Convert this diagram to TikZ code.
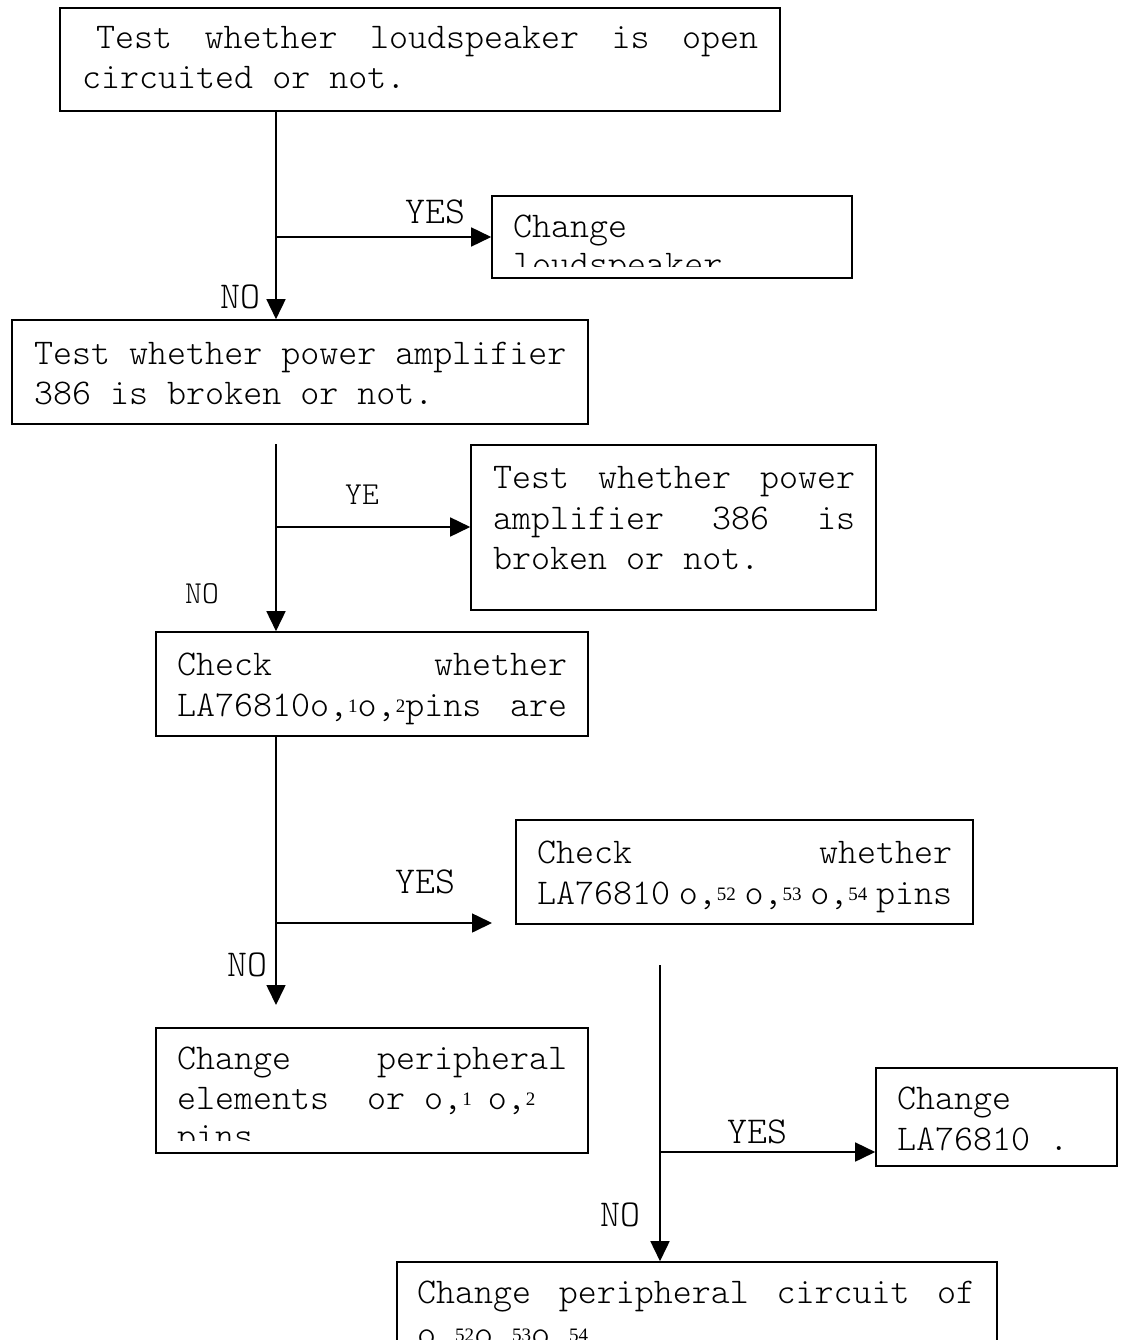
\documentclass[tikz,border=0pt]{standalone}
\usepackage{fontspec}
\newfontfamily\supfont{Liberation Serif}
\usetikzlibrary{arrows.meta}
\newcommand\sups[1]{\raisebox{4pt}{\supfont\fontsize{19}{19}\selectfont #1}}
\newcommand\monofont[1]{\ttfamily\fontseries{l}\fontsize{#1}{#1}\selectfont}
\begin{document}
\begin{tikzpicture}[x=1pt,y=-1pt,
  box/.style={draw, line width=1.6pt, inner sep=0pt},
  txt/.style={anchor=base west, inner sep=0pt, font=\monofont{36.2}},
  lbl/.style={anchor=base west, inner sep=0pt, font=\monofont{38}},
  lbls/.style={anchor=base west, inner sep=0pt, font=\monofont{32}},
  conn/.style={line width=1.6pt},
  arr/.style={conn, -{Triangle[length=20pt,width=19pt]}}]
\fill[white] (0,0) rectangle (1123,1340);
\useasboundingbox (0,0) rectangle (1123,1340);

% boxes
\node[box, minimum width=720pt, minimum height=103pt] (A) at (420,59.5) {};
\node[box, minimum width=360pt, minimum height=82pt]  (C) at (672,237) {};
\node[box, minimum width=576pt, minimum height=104pt] (B) at (300,372) {};
\node[box, minimum width=405pt, minimum height=165pt] (E) at (673.5,527.5) {};
\node[box, minimum width=432pt, minimum height=104pt] (D) at (372,684) {};
\node[box, minimum width=457pt, minimum height=104pt] (G) at (744.5,872) {};
\node[box, minimum width=432pt, minimum height=125pt] (F) at (372,1090.5) {};
\node[box, minimum width=241pt, minimum height=98pt]  (I) at (996.5,1117) {};
\node[box, minimum width=600pt, minimum height=138pt] (H) at (697,1331) {};

% texts
\node[txt] (tA1) at (82,49) {\hbox to 676pt{\hspace*{14pt}Test\hfill whether\hfill loudspeaker\hfill is\hfill open}};
\node[txt] (tA2) at (82,89) {circuited or not.};
\node[txt] (tC1) at (513,237) {Change};
\begin{scope}
\clip (492,196) rectangle (852,266);
\node[txt] (tC2) at (513,275) {loudspeaker};
\end{scope}
\node[txt] (tB1) at (34,364) {Test whether power amplifier};
\node[txt] (tB2) at (34,404) {386 is broken or not.};
\node[txt] (tE1) at (493,488) {\hbox to 362pt{Test\hfill whether\hfill power}};
\node[txt] (tE2) at (493,529) {\hbox to 362pt{amplifier\hfill 386\hfill is}};
\node[txt] (tE3) at (493,569) {broken or not.};
\node[txt] (tD1) at (177,675) {\hbox to 390pt{Check\hfill whether}};
\node[txt] (tD2) at (177,716) {\hbox to 390pt{LA76810o,\sups{1}o,\sups{2}pins\hfill are}};
\node[txt] (tG1) at (537,863) {\hbox to 415pt{Check\hfill whether}};
\node[txt] (tG2) at (537,904) {\hbox to 415pt{LA76810\hfill o,\sups{52}\hfill o,\sups{53}\hfill o,\sups{54}\hfill pins}};
\node[txt] (tF1) at (177,1069) {\hbox to 390pt{Change\hfill peripheral}};
\node[txt] (tF2) at (177,1109) {elements\hspace*{38pt}or\hspace*{19pt}o,\sups{1}\hspace*{16pt}o,\sups{2}};
\begin{scope}
\clip (156,1028) rectangle (588,1140);
\node[txt] (tF3) at (177,1147) {pins};
\end{scope}
\node[txt] (tI1) at (897,1109) {Change};
\node[txt] (tI2) at (897,1150) {LA76810 .};
\node[txt] (tH1) at (417,1303) {\hbox to 558pt{Change\hfill peripheral\hfill circuit\hfill of}};
\node[txt] (tH2) at (417,1345) {o,\sups{52}o,\sups{53}o,\sups{54}};

% labels
\node[lbl]  (l1y) at (405,224) {YES};
\node[lbl]  (l1n) at (220,308) {NO};
\node[lbls] (l2y) at (345,504) {YE};
\node[lbls] (l2n) at (185,603) {NO};
\node[lbl]  (l3y) at (395,893) {YES};
\node[lbl]  (l3n) at (227,976) {NO};
\node[lbl]  (l4y) at (727,1143) {YES};
\node[lbl]  (l4n) at (600,1226) {NO};

% connectors
\coordinate (j1) at (276,237);
\draw[conn] (A.south -| j1) -- (j1);
\draw[arr] (j1) -- (C.west);
\draw[arr] (j1) -- (j1 |- B.north);

\coordinate (s2) at (276,444);
\coordinate (j2) at (276,527);
\draw[conn] (s2) -- (j2);
\draw[arr] (j2) -- (j2 -| E.west);
\draw[arr] (j2) -- (j2 |- D.north);

\coordinate (j3) at (276,923);
\coordinate (e3r) at (492,923);
\coordinate (e3d) at (276,1005);
\draw[conn] (D.south -| j3) -- (j3);
\draw[arr] (j3) -- (e3r);
\draw[arr] (j3) -- (e3d);

\coordinate (s4) at (660,965);
\coordinate (j4) at (660,1152);
\draw[conn] (s4) -- (j4);
\draw[arr] (j4) -- (j4 -| I.west);
\draw[arr] (j4) -- (j4 |- H.north);
\end{tikzpicture}
\end{document}
